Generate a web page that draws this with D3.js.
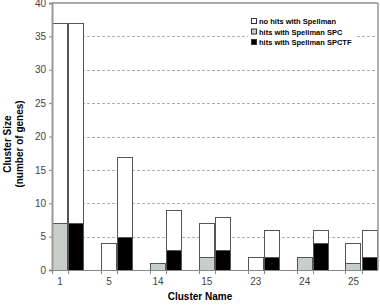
<!DOCTYPE html>
<html>
<head>
<meta charset="utf-8">
<script src="https://cdn.jsdelivr.net/npm/d3@7"></script>
<style>
  body { margin: 0; background: #fff; }
  text { font-family: "Liberation Sans", Arial, sans-serif; }
</style>
</head>
<body>
<div id="main"></div>
<script>
var clusters = ['1', '5', '14', '15', '23', '24', '25']
var spc = [7, 0, 1, 2, 0, 2, 1]
var noHitsLeft = [30, 4, 0, 5, 2, 0, 3]
var spctf = [7, 5, 3, 3, 2, 4, 2]
var noHitsRight = [30, 12, 6, 5, 4, 2, 4]
var yTicks = [0, 5, 10, 15, 20, 25, 30, 35, 40]
var legendLabels = ['no hits with Spellman', 'hits with Spellman SPC', 'hits with Spellman SPCTF']

var colors = { none: '#fff', spc: '#c8cec8', spctf: '#000' }
var plotLeft = 52, plotRight = 378, plotTop = 3, plotBottom = 270

var svg = d3.select('#main')
  .append('svg')
  .attr('width', 380)
  .attr('height', 305)

// 20 slots: two bars per cluster, one empty slot between pairs
var x = d3.scaleBand()
  .domain(d3.range(clusters.length * 3 - 1))
  .range([plotLeft, plotRight])
  .padding(0)

var y = d3.scaleLinear()
  .domain([0, 40])
  .range([plotBottom, plotTop])

// grid
svg.append('g')
  .selectAll('line')
  .data(yTicks.filter(d => d > 0 && d < 40))
  .enter()
  .append('line')
    .attr('x1', plotLeft)
    .attr('x2', plotRight)
    .attr('y1', d => Math.round(y(d)) + 0.5)
    .attr('y2', d => Math.round(y(d)) + 0.5)
    .attr('stroke', '#b0b0b0')
    .attr('stroke-dasharray', '3,2')

// build segments
var segs = []
clusters.forEach(function (c, i) {
  segs.push({ slot: 3 * i, y0: 0, y1: spc[i], fill: colors.spc })
  segs.push({ slot: 3 * i, y0: spc[i], y1: spc[i] + noHitsLeft[i], fill: colors.none })
  segs.push({ slot: 3 * i + 1, y0: 0, y1: spctf[i], fill: colors.spctf })
  segs.push({ slot: 3 * i + 1, y0: spctf[i], y1: spctf[i] + noHitsRight[i], fill: colors.none })
})

svg.append('g')
  .selectAll('rect')
  .data(segs.filter(d => d.y1 > d.y0))
  .enter()
  .append('rect')
    .attr('x', d => Math.round(x(d.slot)) + 0.5)
    .attr('width', Math.round(x.bandwidth()) - 1)
    .attr('y', d => Math.round(y(d.y1)) + 0.5)
    .attr('height', d => Math.round(y(d.y0)) - Math.round(y(d.y1)))
    .attr('fill', d => d.fill)
    .attr('stroke', '#555')
    .attr('stroke-width', 1)

// frame: top and right borders
svg.append('line')
  .attr('x1', plotLeft).attr('x2', plotRight)
  .attr('y1', plotTop).attr('y2', plotTop)
  .attr('stroke', '#aaa').attr('stroke-width', 2)
svg.append('line')
  .attr('x1', plotRight).attr('x2', plotRight)
  .attr('y1', plotTop).attr('y2', plotBottom)
  .attr('stroke', '#999').attr('stroke-width', 1.5)

// y axis
var yAxis = svg.append('g')
  .attr('transform', `translate(${plotLeft},0)`)
  .call(d3.axisLeft(y).tickValues(yTicks).tickSize(3).tickPadding(3))
yAxis.select('.domain').attr('stroke', '#999').attr('stroke-width', 2)
yAxis.selectAll('.tick line').attr('stroke', '#888')
yAxis.selectAll('text').attr('font-size', 10).attr('fill', '#444')

// x axis
var xAxis = svg.append('g')
  .attr('transform', `translate(0,${plotBottom})`)
xAxis.append('line')
  .attr('x1', plotLeft).attr('x2', plotRight)
  .attr('y1', 0.5).attr('y2', 0.5)
  .attr('stroke', '#888')
var tickSlots = []
clusters.forEach((c, i) => { tickSlots.push(3 * i, 3 * i + 1) })
xAxis.selectAll('.tk')
  .data(tickSlots)
  .enter()
  .append('line')
    .attr('x1', d => Math.round(x(d)) + 0.5)
    .attr('x2', d => Math.round(x(d)) + 0.5)
    .attr('y1', 0)
    .attr('y2', 4)
    .attr('stroke', '#888')
xAxis.selectAll('text')
  .data(clusters)
  .enter()
  .append('text')
    .text(d => d)
    .attr('x', (d, i) => x(3 * i) + x.bandwidth() / 2)
    .attr('y', 15)
    .attr('text-anchor', 'middle')
    .attr('font-size', 10)
    .attr('fill', '#444')

// axis titles
svg.append('text')
  .text('Cluster Name')
  .attr('x', 200)
  .attr('y', 300)
  .attr('text-anchor', 'middle')
  .attr('font-size', 10)
  .attr('font-weight', 'bold')

var yTitle = svg.append('g')
  .attr('transform', 'translate(0,144) rotate(-90)')
yTitle.append('text')
  .text('Cluster Size')
  .attr('x', 0).attr('y', 11)
  .attr('text-anchor', 'middle')
  .attr('font-size', 10)
  .attr('font-weight', 'bold')
yTitle.append('text')
  .text('(number of genes)')
  .attr('x', 0).attr('y', 23)
  .attr('text-anchor', 'middle')
  .attr('font-size', 10)
  .attr('font-weight', 'bold')

// legend
var legend = svg.append('g')
  .attr('transform', 'translate(248,14)')
legend.append('rect')
  .attr('width', 108)
  .attr('height', 33)
  .attr('fill', '#fff')
var items = legend.selectAll('g')
  .data(legendLabels)
  .enter()
  .append('g')
    .attr('transform', (d, i) => `translate(0,${i * 10.5})`)
items.append('rect')
  .attr('x', 3.5).attr('y', 4.5)
  .attr('width', 5).attr('height', 5)
  .attr('fill', (d, i) => [colors.none, colors.spc, colors.spctf][i])
  .attr('stroke', '#333')
items.append('text')
  .text(d => d)
  .attr('x', 11)
  .attr('y', 10)
  .attr('font-size', 7.5)
  .attr('font-weight', 'bold')
</script>
</body>
</html>
